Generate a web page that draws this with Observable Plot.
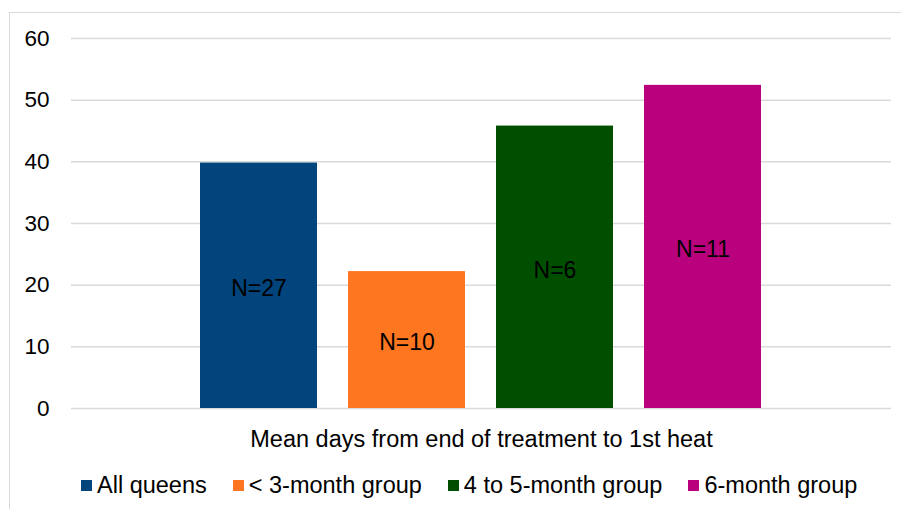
<!DOCTYPE html>
<html><head><meta charset="utf-8">
<script src="https://cdn.jsdelivr.net/npm/d3@7"></script>
<script src="https://cdn.jsdelivr.net/npm/@observablehq/plot@0.6"></script>
<style>
body{margin:0;background:#fff;font-family:"Liberation Sans",Arial,sans-serif;}
#wrap{position:relative;width:901px;height:509px;overflow:hidden;}
#frame{position:absolute;left:9px;top:12px;width:1000px;height:1000px;border:1.5px solid #d9d9d9;box-sizing:border-box;}
#chart{position:absolute;left:0;top:0;}
#legend{position:absolute;left:81px;top:471px;display:flex;gap:26px;font-size:23.5px;color:#000;line-height:28px;}
.item{display:flex;align-items:center;gap:5px}
.sw{width:11px;height:11px;display:inline-block}
</style></head><body>
<div id="wrap"><div id="frame"></div><div id="chart"></div><div id="legend"></div></div>
<script>
const groups = ["All queens", "< 3-month group", "4 to 5-month group", "6-month group"];
const meanDays = [39.8, 22.2, 45.8, 52.4];
const nLabels = ["N=27", "N=10", "N=6", "N=11"];
const colors = ["#01457c", "#ff7620", "#004f00", "#b9007d"];
const yTicks = [0, 10, 20, 30, 40, 50, 60];
const xTitle = "Mean days from end of treatment to 1st heat";

const data = groups.map((g, i) => ({group: g, value: meanDays[i], label: nLabels[i]}));

const plot = Plot.plot({
  width: 901, height: 460,
  marginLeft: 71, marginRight: 10, marginTop: 38, marginBottom: 52,
  style: {fontFamily: "Liberation Sans, Arial, sans-serif", background: "transparent", color: "#000"},
  x: {type: "band", domain: groups, paddingInner: 0.208, paddingOuter: 0.859},
  y: {domain: [0, 60]},
  color: {domain: groups, range: colors},
  marks: [
    Plot.ruleY(yTicks, {stroke: "#d9d9d9", strokeWidth: 1.5}),
    Plot.barY(data, {x: "group", y: "value", fill: "group"}),
    Plot.text(data, {x: "group", y: d => d.value / 2, text: "label", fontSize: 23, fill: "#000", dy: 3}),
    Plot.axisY(yTicks, {tickSize: 0, tickPadding: 22, fontSize: 22.5, fill: "#000", label: null}),
    Plot.axisX({tickSize: 0, tickFormat: () => "", label: xTitle, labelAnchor: "center", labelArrow: "none", labelOffset: 38, fontSize: 23.5, fill: "#000"})
  ]
});
document.getElementById("chart").appendChild(plot);

const legend = d3.select("#legend");
groups.forEach((g, i) => {
  const item = legend.append("div").attr("class", "item");
  item.append("span").attr("class", "sw").style("background", colors[i]);
  item.append("span").text(g);
});
</script>
</body></html>
